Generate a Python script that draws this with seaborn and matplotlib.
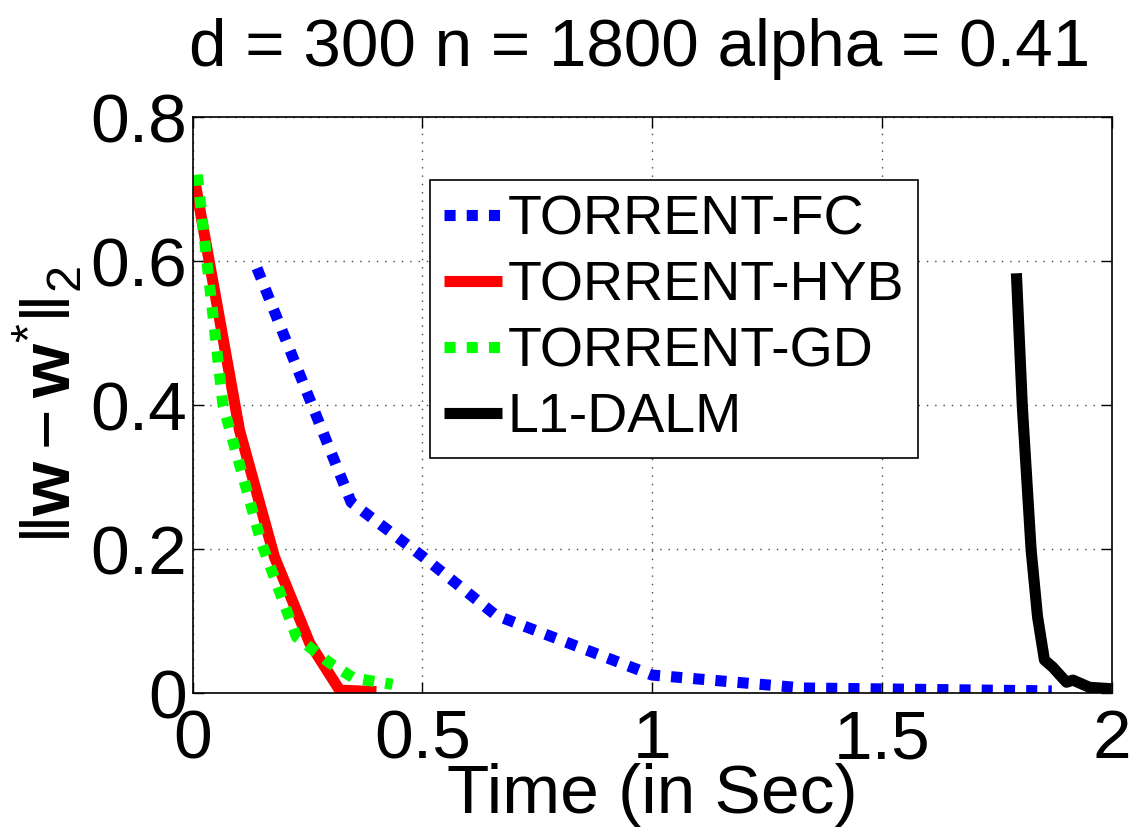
import numpy as np
import pandas as pd
import matplotlib
matplotlib.use("Agg")
import matplotlib.pyplot as plt
import seaborn as sns
from matplotlib.ticker import FuncFormatter

# ---- data ----
fc_t = [0.14, 0.345, 0.50, 0.66, 1.00, 1.33, 1.87]
fc_err = [0.59, 0.265, 0.19, 0.108, 0.025, 0.007, 0.003]

hyb_t = [0.005, 0.102, 0.178, 0.255, 0.32, 0.40]
hyb_err = [0.71, 0.365, 0.189, 0.069, 0.004, 0.002]

gd_t = [0.01, 0.066, 0.15, 0.226, 0.298, 0.35, 0.435]
gd_err = [0.72, 0.40, 0.208, 0.078, 0.042, 0.021, 0.012]

dalm_t = [1.793, 1.806, 1.825, 1.839, 1.854, 1.872, 1.902, 1.916, 1.952, 2.0]
dalm_err = [0.583, 0.397, 0.199, 0.106, 0.046, 0.036, 0.015, 0.018, 0.008, 0.006]

labels = ["TORRENT-FC", "TORRENT-HYB", "TORRENT-GD", "L1-DALM"]
xticks = [0, 0.5, 1, 1.5, 2]
yticks = [0, 0.2, 0.4, 0.6, 0.8]
title = "d = 300 n = 1800 alpha = 0.41"

sns.set_theme(style="white")
plt.rcParams["font.family"] = ["Liberation Sans", "DejaVu Sans"]
plt.rcParams["mathtext.fontset"] = "custom"
plt.rcParams["mathtext.rm"] = "Liberation Sans"
plt.rcParams["mathtext.it"] = "Liberation Sans:italic"
plt.rcParams["mathtext.bf"] = "Liberation Sans:bold"
for k in ["text.color", "axes.labelcolor", "xtick.color", "ytick.color"]:
    plt.rcParams[k] = "black"

fig = plt.figure(figsize=(11.4, 8.33), dpi=100)
ax = fig.add_axes([0.169, 0.168, 0.806, 0.6915])

series = [
    (fc_t, fc_err, "#0000ff", (0, (1, 1))),
    (hyb_t, hyb_err, "#ff0000", "-"),
    (gd_t, gd_err, "#00ff00", (0, (1, 1))),
    (dalm_t, dalm_err, "#000000", "-"),
]
for (t, e, c, ls), lab in zip(series, labels):
    df = pd.DataFrame({"t": t, "e": e})
    sns.lineplot(data=df, x="t", y="e", ax=ax, color=c, linestyle=ls,
                 linewidth=8, label=lab, sort=False, estimator=None,
                 dash_capstyle="butt", solid_capstyle="butt")

ax.set_xlim(0, 2)
ax.set_ylim(0, 0.8)
ax.set_xticks(xticks)
ax.set_yticks(yticks)
fmt = FuncFormatter(lambda v, p: ("%g" % v))
ax.xaxis.set_major_formatter(fmt)
ax.yaxis.set_major_formatter(fmt)
ax.tick_params(direction="in", length=8, width=1, labelsize=50,
               top=True, right=True, bottom=True, left=True, colors="black")
ax.tick_params(axis="x", pad=11)
ax.tick_params(axis="y", pad=4)
ax.grid(True, linestyle=(0, (1, 5)), color="#444444", linewidth=1)
for s in ax.spines.values():
    s.set_color("black")
    s.set_linewidth(1.2)

ax.set_title(title, fontsize=48.5, pad=37, x=0.486)
ax.set_xlabel("Time (in Sec)", fontsize=50, labelpad=-7)
ax.set_ylabel(r"$\|\mathbf{w}-\mathbf{w}^{*}\|_2$", fontsize=50)
ax.yaxis.set_label_coords(-0.1175, 0.5)

leg = ax.legend(loc="upper left", bbox_to_anchor=(0.258, 0.89), fontsize=40,
                frameon=True, fancybox=False, framealpha=1, edgecolor="black",
                handlelength=1.05, handletextpad=0.1, labelspacing=0.25,
                borderpad=0.25, borderaxespad=0)
leg.get_frame().set_linewidth(1.2)

fig.savefig("out.png", dpi=100)
